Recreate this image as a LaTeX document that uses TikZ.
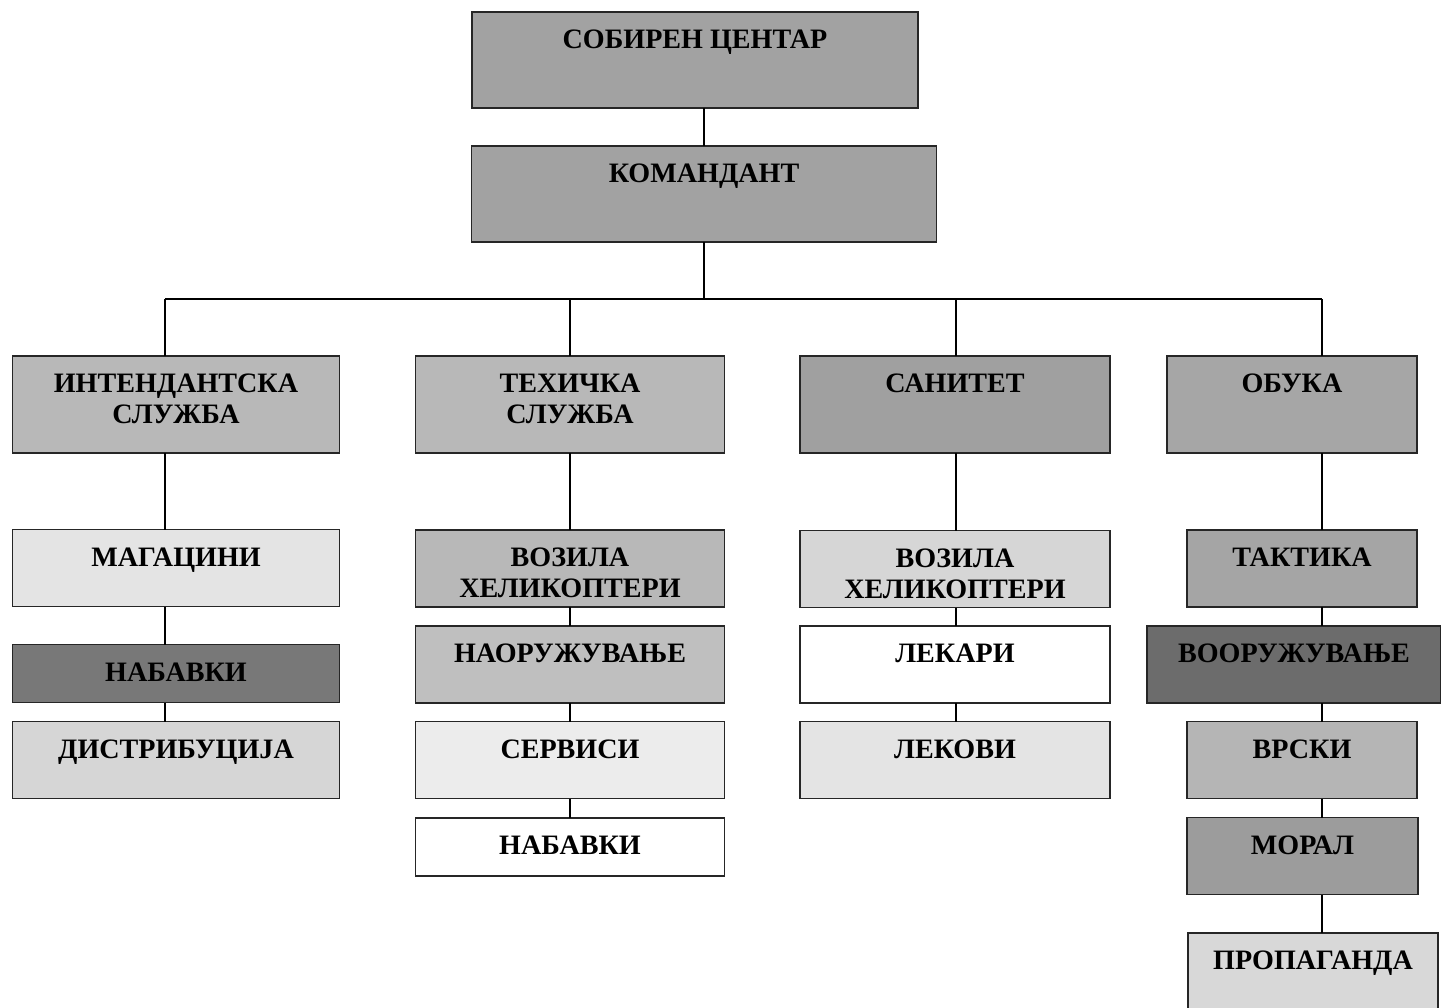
\documentclass[tikz,border=0pt]{standalone}
\usepackage{fontspec}
\setmainfont{Liberation Serif}
\usepackage{xcolor}
\usepackage{tikz}
\definecolor{edge}{HTML}{262626}
\definecolor{top}{HTML}{A2A2A2}
\definecolor{mid}{HTML}{B8B8B8}
\definecolor{deep}{HTML}{A0A0A0}
\definecolor{pale}{HTML}{E4E4E4}
\definecolor{soft}{HTML}{D6D6D6}
\definecolor{dark}{HTML}{787878}
\definecolor{darker}{HTML}{6C6C6C}
\tikzset{
  box/.style={draw=edge, line width=1pt, fill=#1, inner sep=0pt, outer sep=0pt},
  sz/.style 2 args={minimum width=#1*0.02cm, minimum height=#2*0.02cm},
  lab/.style={font=\fontsize{16}{17.6}\selectfont\bfseries, align=center,
    inner sep=0pt, anchor=north, yshift=-0.36cm},
  boxtext/.style={label={[lab]north:#1}},
  link/.style={draw=black, line width=0.8pt},
}

\begin{document}
\begin{tikzpicture}[x=0.02cm, y=-0.02cm]
  \useasboundingbox[fill=white] (0,0) rectangle (1441,1008);

  % top of the chart
  \node[box=top, sz={446}{96}, boxtext={СОБИРЕН ЦЕНТАР}] (sob) at (695,60) {};
  \node[box=top, sz={465}{96}, boxtext={КОМАНДАНТ}] (kom) at (704,194) {};

  % services
  \node[box=mid, sz={327}{97}, boxtext={ИНТЕНДАНТСКА\\СЛУЖБА}] (int) at (176,404.5) {};
  \node[box=mid, sz={309}{97}, boxtext={ТЕХИЧКА\\СЛУЖБА}] (tex) at (570,404.5) {};
  \node[box=deep, sz={310}{97}, boxtext={САНИТЕТ}] (san) at (955,404.5) {};
  \node[box=top!80!mid, sz={250}{97}, boxtext={ОБУКА}] (obu) at (1292,404.5) {};

  % first column
  \node[box=pale, sz={327}{77}, boxtext={МАГАЦИНИ}] (mag) at (176,568) {};
  \node[box=dark, sz={327}{58}, boxtext={НАБАВКИ}] (nabA) at (176,673.5) {};
  \node[box=soft, sz={327}{77}, boxtext={ДИСТРИБУЦИЈА}] (dis) at (176,760) {};

  % second column
  \node[box=mid, sz={309}{77}, boxtext={ВОЗИЛА\\ХЕЛИКОПТЕРИ}] (vozA) at (570,568.5) {};
  \node[box=mid!90!white, sz={309}{77}, boxtext={НАОРУЖУВАЊЕ}] (nao) at (570,664.5) {};
  \node[box=pale!70!white, sz={309}{77}, boxtext={СЕРВИСИ}] (ser) at (570,760) {};
  \node[box=white, sz={309}{58}, boxtext={НАБАВКИ}] (nabB) at (570,847) {};

  % third column
  \node[box=soft, sz={310}{77}, boxtext={ВОЗИЛА\\ХЕЛИКОПТЕРИ}] (vozB) at (955,569) {};
  \node[box=white, sz={310}{77}, boxtext={ЛЕКАРИ}] (lek) at (955,664.5) {};
  \node[box=pale, sz={310}{77}, boxtext={ЛЕКОВИ}] (lekv) at (955,760) {};

  % fourth column
  \node[box=top!85!mid, sz={230}{77}, boxtext={ТАКТИКА}] (tak) at (1302,568.5) {};
  \node[box=darker, sz={294}{77}, boxtext={ВООРУЖУВАЊЕ}] (voo) at (1294,664.5) {};
  \node[box=mid!85!top, sz={230}{77}, boxtext={ВРСКИ}] (vrs) at (1302,760) {};
  \node[box=deep!90!dark, sz={231}{77}, boxtext={МОРАЛ}] (mor) at (1302.5,856) {};
  \node[box=soft!85!pale, sz={250}{77}, boxtext={ПРОПАГАНДА}] (pro) at (1313,971.5) {};

  % spines
  \coordinate (bus) at (704,299);
  \coordinate (c1) at (165,299);
  \coordinate (c2) at (570,299);
  \coordinate (c3) at (956,299);
  \coordinate (c4) at (1322,299);

  \draw[link] (sob.south -| kom.north) -- (kom.north);
  \draw[link] (kom.south) -- (bus);
  \draw[link] (c1) -- (c4);
  \draw[link] (c1) -- (c1 |- int.north);
  \draw[link] (c2) -- (c2 |- tex.north);
  \draw[link] (c3) -- (c3 |- san.north);
  \draw[link] (c4) -- (c4 |- obu.north);

  \foreach \a/\b in {int/mag, mag/nabA, nabA/dis}
    \draw[link] (c1 |- \a.south) -- (c1 |- \b.north);
  \foreach \a/\b in {tex/vozA, vozA/nao, nao/ser, ser/nabB}
    \draw[link] (c2 |- \a.south) -- (c2 |- \b.north);
  \foreach \a/\b in {san/vozB, vozB/lek, lek/lekv}
    \draw[link] (c3 |- \a.south) -- (c3 |- \b.north);
  \foreach \a/\b in {obu/tak, tak/voo, voo/vrs, vrs/mor, mor/pro}
    \draw[link] (c4 |- \a.south) -- (c4 |- \b.north);
\end{tikzpicture}
\end{document}
